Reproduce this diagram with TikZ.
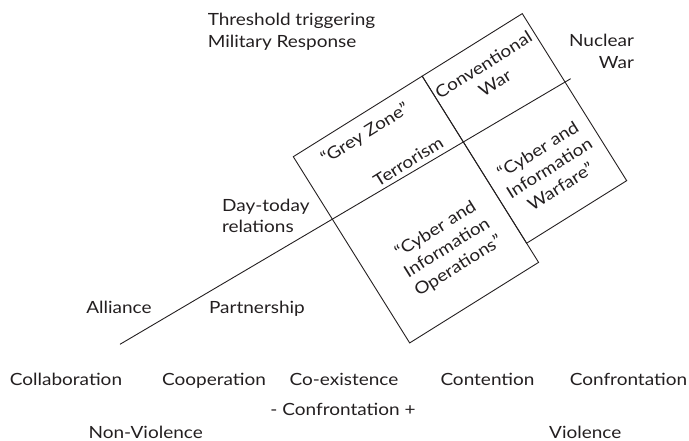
\documentclass[tikz,border=0pt]{standalone}
\usepackage{fontspec}
\setmainfont{Lato}[FakeStretch=1.13]
\definecolor{ink}{HTML}{231F20}
\begin{document}
\begin{tikzpicture}[x=1bp, y=-1bp, line width=0.9bp, color=ink,
  every node/.style={inner sep=0pt, font=\fontsize{16.8bp}{21.5bp}\selectfont},
  word/.style={anchor=base},
  boxtext/.style={rotate=32, align=center}]
\useasboundingbox (0,0) rectangle (689,441);

% threshold line
\coordinate (lowend) at (120,344.3);
\coordinate (highend) at (570.7,78.7);
\draw (lowend) -- (highend);

% the four zones, turned with the threshold
\begin{scope}[shift={(293.3,156.7)}, rotate=32]
\draw (0,0) rectangle (152,219.6);
\draw (152,0) rectangle (270,197);
\node[boxtext] (grey) at (73,19) {“Grey Zone”};
\node[boxtext, anchor=base] (terror) at (95,71) {Terrorism};
\node[boxtext] (convwar) at (210,33.5) {Conventional\\War};
\node[boxtext] (cyberwar) at (211,145) {“Cyber and\\Information\\Warfare”};
\node[boxtext] (cyberops) at (82,159) {“Cyber and\\Information\\Operations”};
\end{scope}

\node[anchor=north west, align=left] (threshold) at (207.3,13) {Threshold triggering\\Military Response};
\node[anchor=north, align=right] (nuclear) at (601.5,34) {Nuclear\\War};
\node[anchor=north west, align=left] (daytoday) at (221.7,198.3) {Day-today\\relations};
\node[word] (alliance) at (119,314) {Alliance};
\node[word] (partner) at (257,314) {Partnership};

% scale along the bottom
\node[word] (collab) at (66,385) {Collaboration};
\node[word] (coop) at (214,385) {Cooperation};
\node[word] (coexist) at (344,385) {Co-existence};
\node[word] (contention) at (487.5,385) {Contention};
\node[word] (confront) at (628.5,385) {Confrontation};
\node[word] (axis) at (343,415) {- Confrontation +};
\node[word] (nonviolence) at (145.7,438.5) {Non-Violence};
\node[word] (violence) at (585.3,438.5) {Violence};
\end{tikzpicture}
\end{document}
